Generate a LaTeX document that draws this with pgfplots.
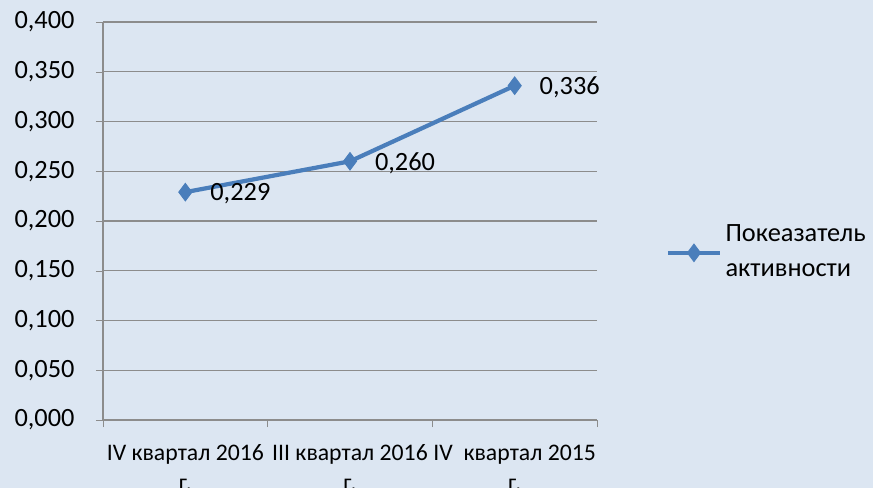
\documentclass[border=0pt]{standalone}
\usepackage{fontspec}
\setmainfont{Carlito}
\usepackage{pgfplots}
\pgfplotsset{compat=1.18}
\definecolor{bgcol}{HTML}{DCE6F2}
\definecolor{sercol}{HTML}{4A7EBB}
\definecolor{gridcol}{HTML}{8C8C8C}
\begin{document}
\fontsize{15}{20}\selectfont
\begin{tikzpicture}
\fill[bgcol] (-2.06cm,-1.36cm) rectangle (15.40cm,8.40cm);
\begin{axis}[
  at={(0,0)}, anchor=south west,
  scale only axis,
  width=9.88cm, height=7.96cm,
  /pgf/number format/assume math mode=true,
  /pgf/number format/.cd, use comma, fixed, fixed zerofill, precision=3, /pgfplots/.cd,
  xmin=0, xmax=3, ymin=0, ymax=0.4,
  ytick distance=0.05,
  xtick={0.5,1.5,2.5},
  xticklabels={{IV квартал 2016\\г.},{III квартал 2016\\г.},{IV\ \ квартал 2015\\г.}},
  xticklabel style={align=center, yshift=-5pt, font=\fontsize{13.5}{17}\selectfont},
  minor xtick={0,1,2,3},
  major x tick style={draw=none},
  minor tick length=4pt,
  major tick length=4pt,
  tick align=outside,
  tick style={gridcol},
  axis x line*=bottom, axis y line*=left,
  axis line style={gridcol, line width=0.8pt},
  ymajorgrids, grid style={gridcol, line width=0.6pt},
  yticklabel style={xshift=-7pt, font=\fontsize{15}{18}\selectfont},
  nodes near coords,
  every node near coord/.append style={anchor=west, xshift=9pt, yshift=-1pt, text=black, font=\fontsize{15}{18}\selectfont},
  legend style={at={(1.128,0.42)}, anchor=west, draw=none, fill=none, cells={align=left}, font=\fontsize{15}{20}\selectfont},
  legend image code/.code={\draw[mark repeat=2,mark phase=2] plot coordinates {(0cm,0cm)(0.52cm,0cm)(1.04cm,0cm)};},
]
\addplot[sercol, line width=2.4pt, mark=diamond*, mark size=5pt, mark options={fill=sercol, line width=0.5pt}] coordinates {
  (0.5,0.229)(1.5,0.260)(2.5,0.336)
};
\addlegendentry{Покеазатель\\активности}
\end{axis}
\pgfresetboundingbox
\path (-2.06cm,-1.36cm) rectangle (15.40cm,8.40cm);
\end{tikzpicture}
\end{document}
